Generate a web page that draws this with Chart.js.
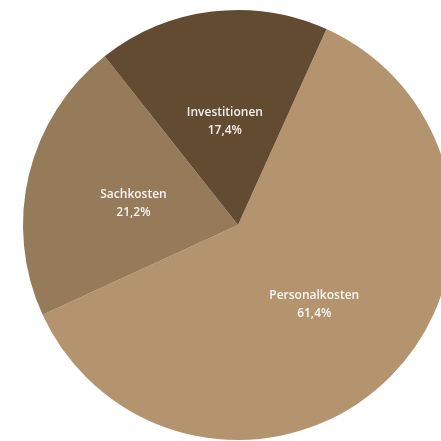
<!DOCTYPE html>
<html>
<head>
<meta charset="utf-8">
<script src="https://cdn.jsdelivr.net/npm/chart.js@4.4.0/dist/chart.umd.min.js"></script>
<style>
html,body{margin:0;padding:0;background:#fff;overflow:hidden;width:441px;height:441px;}
#c{display:block;}
</style>
</head>
<body>
<canvas id="c" width="476" height="450"></canvas>
<script>
const categories = ["Personalkosten", "Sachkosten", "Investitionen"];
const values = [61.4, 21.2, 17.4];
const valueLabels = ["61,4%", "21,2%", "17,4%"];
const colors = ["#b4946e", "#967b5a", "#634b32"];

const labelPlugin = {
  id: 'sliceLabels',
  afterDatasetsDraw(chart) {
    const ctx = chart.ctx;
    const meta = chart.getDatasetMeta(0);
    ctx.save();
    ctx.fillStyle = 'rgba(255,255,255,0.92)';
    ctx.textAlign = 'center';
    ctx.textBaseline = 'middle';
    ctx.font = '600 12px "Open Sans", sans-serif';
    meta.data.forEach((arc, i) => {
      const p = arc.tooltipPosition();
      ctx.fillText(categories[i], p.x, p.y - 5.5);
      ctx.fillText(valueLabels[i], p.x, p.y + 12.5);
    });
    ctx.restore();
  }
};

new Chart(document.getElementById('c'), {
  type: 'pie',
  data: {
    labels: categories,
    datasets: [{
      data: values,
      backgroundColor: colors,
      borderWidth: 0
    }]
  },
  options: {
    responsive: false,
    animation: false,
    rotation: 24.3,
    radius: 215,
    layout: { padding: 0 },
    plugins: { legend: { display: false }, tooltip: { enabled: false } }
  },
  plugins: [labelPlugin]
});
</script>
</body>
</html>
